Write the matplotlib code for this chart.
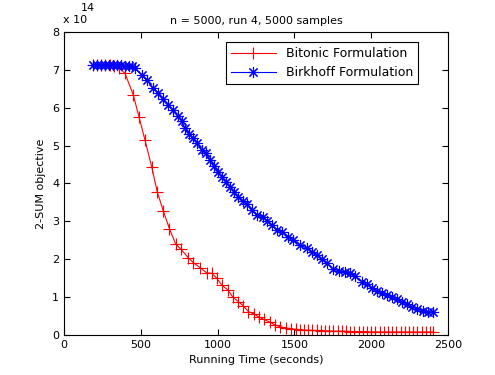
import matplotlib
matplotlib.use('Agg')
import matplotlib.pyplot as plt

# running time (seconds) and 2-SUM objective (units of 1e14)
bitonic_t = [189, 215, 241, 267, 299, 326, 358, 397, 451, 488, 527, 571, 607, 646,
             686, 727, 760, 809, 842, 885, 929, 962, 994, 1027, 1066, 1098, 1135,
             1167, 1200, 1239, 1270, 1302, 1341, 1374, 1406, 1443, 1476, 1508,
             1535, 1562, 1590, 1617, 1644, 1672, 1699, 1726, 1754, 1781, 1808, 1836,
             1863, 1890, 1918, 1945, 1972, 2000, 2027, 2054, 2082, 2109, 2136, 2164,
             2191, 2218, 2246, 2273, 2300, 2328, 2355, 2382, 2400]
bitonic_obj = [7.14, 7.14, 7.14, 7.13, 7.12, 7.10, 7.05, 6.91, 6.34, 5.76, 5.15, 4.44,
               3.78, 3.28, 2.81, 2.40, 2.27, 2.04, 1.91, 1.78, 1.64, 1.63, 1.50, 1.32,
               1.19, 1.01, 0.88, 0.77, 0.62, 0.55, 0.47, 0.41, 0.34, 0.26, 0.22, 0.19,
               0.17, 0.15,
               0.14, 0.13, 0.13, 0.12, 0.12, 0.11, 0.11, 0.11, 0.10, 0.10, 0.10, 0.10,
               0.09, 0.09, 0.09, 0.09, 0.09, 0.08, 0.08, 0.08, 0.08, 0.08, 0.08, 0.08,
               0.08, 0.08, 0.08, 0.08, 0.08, 0.08, 0.08, 0.08, 0.08]

birkhoff_t = [189, 215, 241, 267, 293, 319, 345, 371, 397, 423, 443, 462, 506, 538,
              581, 614, 643, 679, 712, 744, 766, 788, 816, 842, 868, 896, 924, 951,
              977, 1005, 1027, 1055, 1081, 1107, 1135, 1163, 1190, 1222, 1255, 1294,
              1322, 1352, 1385, 1417, 1460, 1493, 1536, 1580, 1613, 1645, 1678, 1714,
              1753, 1792, 1829, 1862, 1895, 1938, 1971, 2003, 2036, 2068, 2101, 2133,
              2166, 2198, 2231, 2264, 2296, 2335, 2372, 2400]
birkhoff_obj = [7.14, 7.14, 7.14, 7.14, 7.13, 7.13, 7.12, 7.12, 7.11, 7.11, 7.10, 7.04,
                6.86, 6.73, 6.51, 6.38, 6.22, 6.07, 5.94, 5.78, 5.65, 5.46, 5.31, 5.19,
                5.08, 4.88, 4.80, 4.62, 4.46, 4.31, 4.18, 4.05, 3.92, 3.78, 3.65, 3.55,
                3.46, 3.30, 3.17, 3.11, 3.01, 2.90, 2.77, 2.73, 2.60, 2.51, 2.38, 2.29,
                2.20, 2.11, 2.00, 1.89, 1.73, 1.70, 1.67, 1.63, 1.57, 1.41, 1.34, 1.25,
                1.17, 1.12, 1.06, 1.01, 0.94, 0.88, 0.82, 0.75, 0.69, 0.63, 0.61, 0.61]

plt.rcParams['font.family'] = 'DejaVu Sans'
plt.rcParams['font.size'] = 8

fig = plt.figure(figsize=(4.95, 3.75), dpi=100)
ax = fig.add_axes([0.1293, 0.1067, 0.7758, 0.808])

ax.plot(bitonic_t, bitonic_obj, color='red', lw=0.8, marker='+', ms=8,
        mew=0.8, label='Bitonic Formulation')
ax.plot(birkhoff_t, birkhoff_obj, color='blue', lw=0.8, marker=(8, 2, 0), ms=8,
        mew=0.8, label='Birkhoff Formulation')

ax.set_xlim(0, 2500)
ax.set_ylim(0, 8)
ax.set_xticks([0, 500, 1000, 1500, 2000, 2500])
ax.set_yticks(range(0, 9))
ax.tick_params(direction='in', top=True, right=True, length=4, width=0.8)
for s in ax.spines.values():
    s.set_linewidth(0.8)

ax.set_xlabel('Running Time (seconds)')
ax.set_ylabel('2-SUM objective')
ax.set_title('n = 5000, run 4, 5000 samples', fontsize=8, pad=6)

# exponent label, MATLAB style
ax.text(-0.003, 1.04, 'x 10', transform=ax.transAxes, ha='left', va='center')
ax.text(0.044, 1.079, '14', transform=ax.transAxes, ha='left', va='center')

leg = ax.legend(loc='upper right', bbox_to_anchor=(0.922, 0.967), borderaxespad=0,
                handlelength=3.6, fontsize=9, fancybox=False, framealpha=1,
                edgecolor='black')
leg.get_frame().set_linewidth(0.8)

fig.savefig('out.png', dpi=100)
